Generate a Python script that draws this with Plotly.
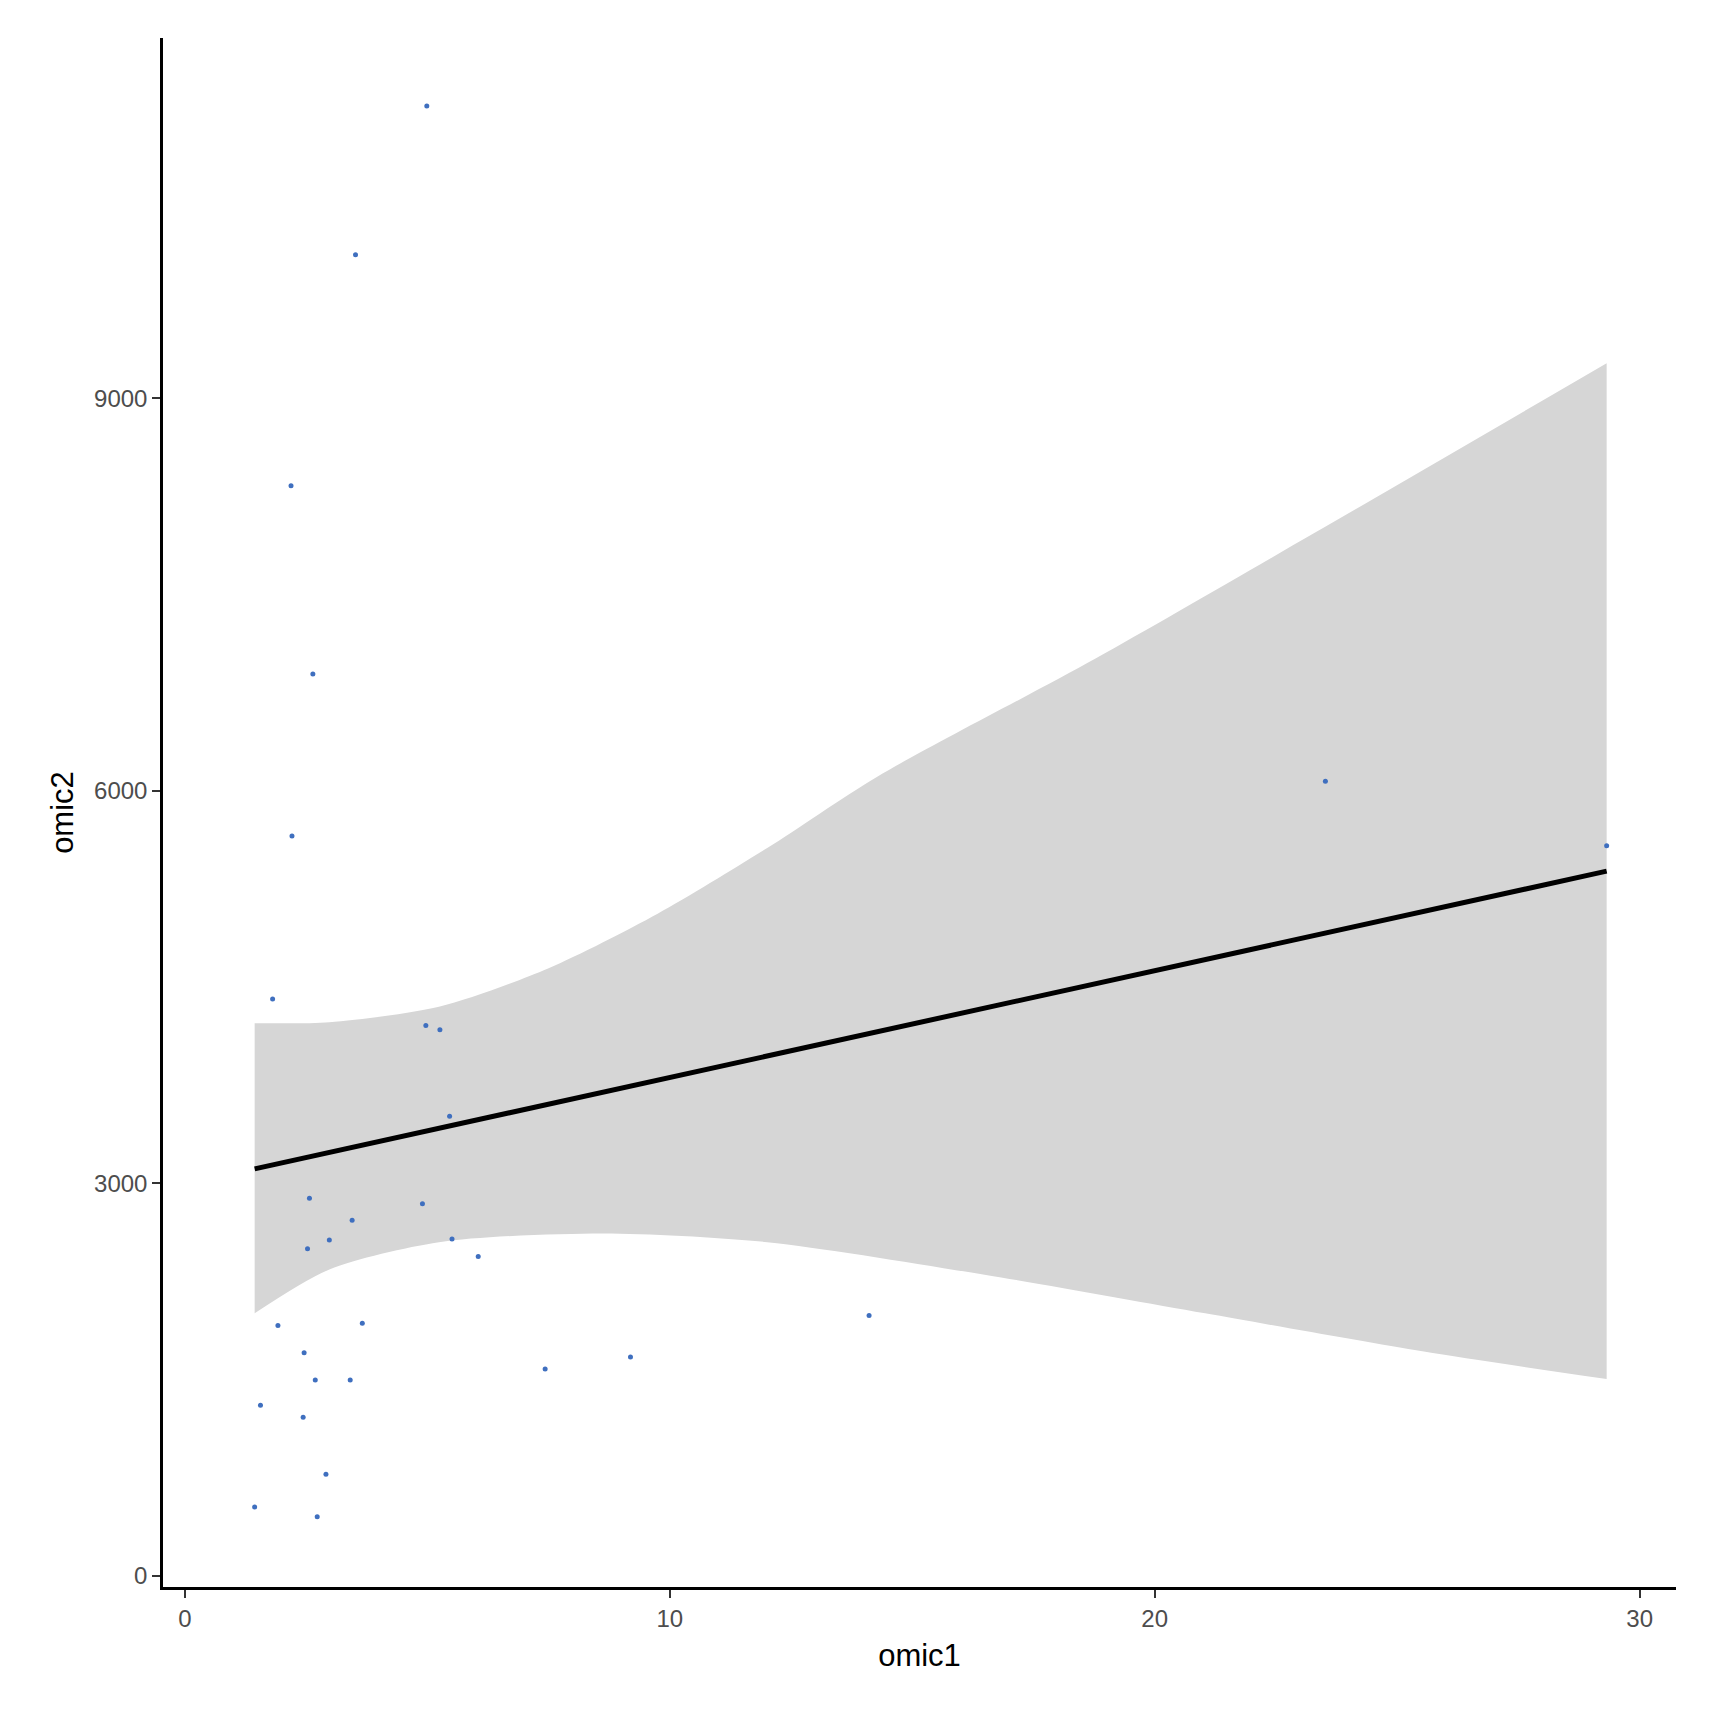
import plotly.graph_objects as go

# observed points
omic1 = [4.99, 3.52, 2.19, 2.64, 2.21, 23.52, 29.32, 1.81, 4.97, 5.26, 5.46, 2.57, 4.90, 3.45, 2.98, 5.51,
         2.53, 6.05, 14.11, 1.92, 3.66, 2.46, 2.69, 3.41, 9.19, 7.43, 1.56, 2.44, 2.91, 1.44, 2.73]
omic2 = [11233, 10095, 8330, 6892, 5654, 6072, 5579, 4408, 4207, 4174, 3513, 2886, 2844, 2718, 2568, 2576,
         2501, 2442, 1991, 1915, 1932, 1706, 1497, 1497, 1673, 1581, 1305, 1213, 778, 527, 452]

# fitted line and confidence band
fit_x = [1.44, 29.32]
fit_y = [3111, 5386]
upper_x = [1.44, 2.98, 5.24, 7.49, 9.75, 12.01, 14.27, 18.78, 23.30, 29.32]
upper_y = [4224, 4232, 4349, 4642, 5060, 5562, 6106, 7010, 7971, 9267]
lower_x = [1.44, 2.98, 5.24, 8.62, 12.01, 16.52, 21.04, 25.55, 29.32]
lower_y = [2007, 2342, 2551, 2618, 2551, 2300, 2007, 1715, 1505]

fig = go.Figure()
# confidence band: upper edge, then lower edge filled up to it
fig.add_trace(go.Scatter(x=upper_x, y=upper_y, mode='lines', line=dict(width=0, shape='spline', smoothing=0.8),
                         hoverinfo='skip'))
fig.add_trace(go.Scatter(x=lower_x, y=lower_y, mode='lines', fill='tonexty', fillcolor='#d6d6d6',
                         line=dict(width=0, shape='spline', smoothing=0.8), hoverinfo='skip'))
fig.add_trace(go.Scatter(x=omic1, y=omic2, mode='markers', marker=dict(color='#3f6fbf', size=5)))
fig.add_trace(go.Scatter(x=fit_x, y=fit_y, mode='lines', line=dict(color='black', width=5)))

fig.update_layout(
    width=1717, height=1709, showlegend=False,
    paper_bgcolor='white', plot_bgcolor='white',
    margin=dict(l=155, r=49, t=30, b=130),
    font=dict(family='Liberation Sans, Arial', color='#4d4d4d'),
)
axis_style = dict(showgrid=False, zeroline=False, showline=True, linecolor='black', linewidth=2.5,
                  ticks='outside', ticklen=8, tickcolor='#333333', tickwidth=1.5,
                  tickfont=dict(size=24, color='#4d4d4d'), title_font=dict(size=31, color='black'))
fig.update_xaxes(range=[-0.45, 30.75], tickvals=[0, 10, 20, 30], title_text='omic1', title_standoff=14, **axis_style)
fig.update_yaxes(range=[-84, 11752], tickvals=[0, 3000, 6000, 9000], title_text='omic2', title_standoff=12, **axis_style)

fig.write_html("out.html")
